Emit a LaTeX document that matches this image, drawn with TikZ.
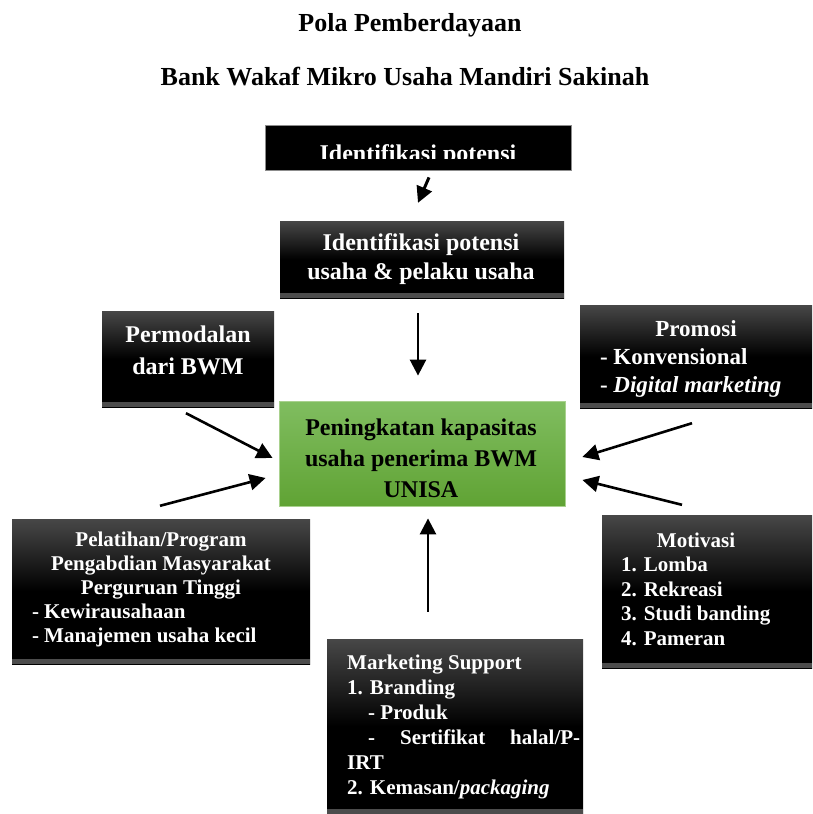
\documentclass[tikz,border=0pt]{standalone}
\usepackage{fontspec}
\setmainfont{Liberation Serif}
\usetikzlibrary{arrows.meta}

\definecolor{greentop}{RGB}{128,189,96}
\definecolor{greenbot}{RGB}{96,163,52}
\definecolor{greenline}{RGB}{169,209,142}

\begin{document}
\begin{tikzpicture}[
    x=1pt, y=-1pt,
    every node/.style={font=\bfseries},
    >={Triangle[length=16pt,width=16pt]},
    arr/.style={->, line width=2.6pt},
    darkbox/.style={inner sep=0pt, top color=black!72, bottom color=black, middle color=black,
        path picture={\fill[black!70] ([yshift=5pt]path picture bounding box.south west)
            rectangle (path picture bounding box.south east);}},
    boxtext/.style={text=white, align=center, font=\bfseries\fontsize{21}{24.5}\selectfont},
    titletext/.style={font=\bfseries\fontsize{26}{30}\selectfont}
]
\useasboundingbox (0,0) rectangle (812,814);

% ===== Title =====
\node[titletext] (title1) at (410,25) {Pola Pemberdayaan};
\node[titletext] (title2) at (405,77) {Bank Wakaf Mikro Usaha Mandiri Sakinah};

% ===== Top box (cut off) =====
\node[fill=black, draw=black!45, line width=0.8pt, minimum width=306, minimum height=45,
    inner sep=0pt] (idtop) at (418,147.5) {};
\begin{scope}
    \clip (265,125) rectangle (571,158);
    \node[boxtext, anchor=base, font=\bfseries\fontsize{24}{29}\selectfont] (idtoptext)
        at (418,161) {Identifikasi potensi};
\end{scope}

% ===== Second box =====
\node[darkbox, minimum width=284, minimum height=77] (idbox) at (422,259.5) {};
\node[boxtext, font=\bfseries\fontsize{24}{29}\selectfont] (idtext) at (421,259)
    {Identifikasi potensi\\usaha \& pelaku usaha};

% ===== Center box =====
\node[top color=greentop, bottom color=greenbot, draw=greenline, line width=0.8pt,
    minimum width=286, minimum height=105, inner sep=0pt] (gbox) at (422,453.5) {};
\node[align=center, font=\bfseries\fontsize{24}{31}\selectfont] (gtext) at (421,458)
    {Peningkatan kapasitas\\usaha penerima BWM\\UNISA};

% ===== Permodalan =====
\node[darkbox, minimum width=172, minimum height=96] (perm) at (188,359) {};
\node[boxtext, font=\bfseries\fontsize{24}{32}\selectfont] (permtext) at (188,350)
    {Permodalan\\dari BWM};

% ===== Promosi =====
\node[darkbox, minimum width=232, minimum height=103] (promo) at (696,356.5) {};
\node[boxtext, font=\bfseries\fontsize{23}{28}\selectfont] (promotext) at (696,359)
    {Promosi\\\makebox[192pt][l]{- Konvensional}\\\makebox[192pt][l]{- \textit{Digital marketing}}};

% ===== Pelatihan =====
\node[darkbox, minimum width=298, minimum height=145] (latih) at (161,591.5) {};
\node[boxtext, font=\bfseries\fontsize{21}{24}\selectfont] (latihtext) at (161,589)
    {Pelatihan/Program\\Pengabdian Masyarakat\\Perguruan Tinggi\\
     \makebox[258pt][l]{- Kewirausahaan}\\\makebox[258pt][l]{- Manajemen usaha kecil}};

% ===== Motivasi =====
\node[darkbox, minimum width=210, minimum height=153] (motiv) at (707,591.5) {};
\node[boxtext] (motivtext) at (696,589)
    {Motivasi\\\makebox[150pt][l]{1. Lomba}\\\makebox[150pt][l]{2. Rekreasi}\\
     \makebox[150pt][l]{3. Studi banding}\\\makebox[150pt][l]{4. Pameran}};

% ===== Marketing Support =====
\node[darkbox, minimum width=256, minimum height=175] (market) at (455,726.5) {};
\node[boxtext, align=left, font=\bfseries\fontsize{21}{25}\selectfont, anchor=west,
    inner sep=0pt] (markettext) at (347,727)
    {Marketing Support\\1. Branding\\\hspace*{21pt}- Produk\\
     \hbox to 233pt{\hspace*{21pt}-\hfill Sertifikat\hfill halal/P-}\\
     IRT\\2. Kemasan/\textit{packaging}};

% ===== Arrows =====
\draw[arr, line width=3pt] ([xshift=11pt,yshift=-7pt]idtop.south) -- ([xshift=-4pt,yshift=18pt]idbox.north);
\draw[arr] ([xshift=-4pt,yshift=-15pt]idbox.south) -- ([xshift=-4pt,yshift=25pt]gbox.north);
\draw[arr] ([xshift=-2pt,yshift=-6pt]perm.south) -- ([xshift=-6pt,yshift=-4.5pt]gbox.west);
\draw[arr] ([xshift=-1pt,yshift=13pt]latih.north) -- ([xshift=-13pt,yshift=-24.5pt]gbox.west);
\draw[arr] ([xshift=-4pt,yshift=-15pt]promo.south) -- ([xshift=17pt,yshift=-3.5pt]gbox.east);
\draw[arr] ([xshift=-25pt,yshift=10pt]motiv.north) -- ([xshift=17pt,yshift=-26.5pt]gbox.east);
\draw[arr] ([xshift=-27pt,yshift=27pt]market.north) -- ([xshift=6pt,yshift=-12pt]gbox.south);

\end{tikzpicture}
\end{document}
